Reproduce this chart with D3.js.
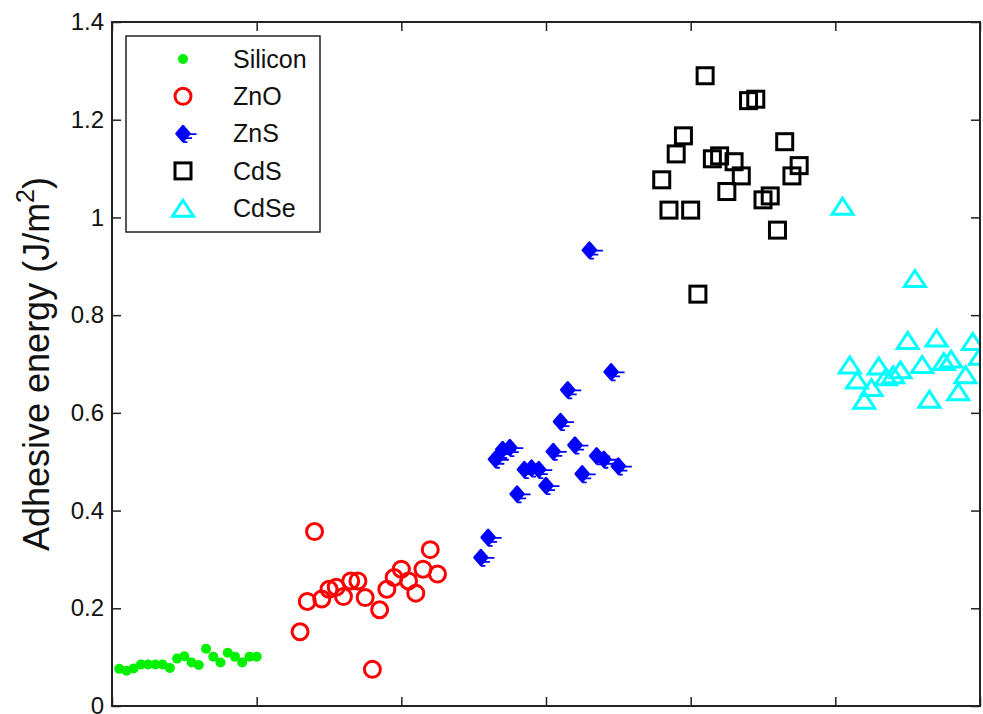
<!DOCTYPE html>
<html>
<head>
<meta charset="utf-8">
<script src="https://cdn.jsdelivr.net/npm/d3@7"></script>
<style>
    body { margin: 0; background: #fff; }
    svg { display: block; font-family: Arial, 'Liberation Sans', sans-serif; }
</style>
</head>
<body>
<div id="chart"></div>
<script>
// sample index (x) and adhesive energy (y) per material
const siliconX = [1, 2, 3, 4, 5, 6, 7, 8, 9, 10, 11, 12, 13, 14, 15, 16, 17, 18, 19, 20];
const siliconY = [0.076, 0.072, 0.077, 0.085, 0.085, 0.085, 0.085, 0.078, 0.097, 0.102,
    0.089, 0.084, 0.117, 0.101, 0.089, 0.109, 0.101, 0.089, 0.101, 0.101];

const znoX = [26, 27, 28, 29, 30, 31, 32, 33, 34, 35, 36, 37, 38, 39, 40, 41, 42, 43, 44, 45];
const znoY = [0.152, 0.214, 0.357, 0.219, 0.239, 0.243, 0.224, 0.256, 0.256, 0.222,
    0.075, 0.197, 0.239, 0.263, 0.280, 0.256, 0.231, 0.280, 0.320, 0.270];

const znsX = [51, 52, 53, 54, 55, 56, 57, 58, 59, 60, 61, 62, 63, 64, 65, 66, 67, 68, 69, 70];
const znsY = [0.304, 0.345, 0.505, 0.525, 0.529, 0.434, 0.484, 0.487, 0.484, 0.451,
    0.521, 0.582, 0.647, 0.534, 0.475, 0.933, 0.512, 0.505, 0.684, 0.491];

const cdsX = [76, 77, 78, 79, 80, 81, 82, 83, 84, 85, 86, 87, 88, 89, 90, 91, 92, 93, 94, 95];
const cdsY = [1.077, 1.015, 1.130, 1.167, 1.015, 0.843, 1.290, 1.120, 1.126, 1.053,
    1.114, 1.085, 1.239, 1.242, 1.036, 1.044, 0.974, 1.155, 1.085, 1.106];

const cdseX = [101, 102, 103, 104, 105, 106, 107, 108, 109, 110, 111, 112, 113, 114, 115, 116, 117, 118, 119, 120];
const cdseY = [1.023, 0.698, 0.667, 0.626, 0.652, 0.696, 0.674, 0.678, 0.688, 0.748,
    0.875, 0.699, 0.628, 0.753, 0.705, 0.710, 0.643, 0.678, 0.746, 0.716];

const seriesNames = ['Silicon', 'ZnO', 'ZnS', 'CdS', 'CdSe'];
const xTicks = [0, 20, 40, 60, 80, 100, 120];
const yTicks = [0, 0.2, 0.4, 0.6, 0.8, 1, 1.2, 1.4];

const width = 983;
const height = 714;
const margin = { top: 22, right: 3, bottom: 8, left: 112 };
const tickLen = 9;

const x = d3.scaleLinear().domain([0, 120]).range([margin.left, width - margin.right]);
const y = d3.scaleLinear().domain([0, 1.4]).range([height - margin.bottom, margin.top]);

// marker drawers, each gets a <g> already moved onto the point
const markers = {
    Silicon: g => g.append('circle').attr('r', 5).attr('fill', '#00f000'),
    ZnO: g => g.append('circle').attr('r', 8).attr('fill', 'none')
        .attr('stroke', '#ff0000').attr('stroke-width', 3),
    ZnS: g => {
        // filled diamond with the little dashes matlab left on it
        g.append('path')
            .attr('d', 'M0,-7.5L6.5,0L0,7.5L-6.5,0Z')
            .attr('fill', '#0000ff')
            .attr('stroke', '#0000ff')
            .attr('stroke-width', 2.5)
            .attr('stroke-linejoin', 'round');
        g.append('path')
            .attr('d', 'M5,0.5H13.5M3,4.5H9M0,8.5H4.5')
            .attr('stroke', '#0000ff').attr('stroke-width', 1.8).attr('fill', 'none');
    },
    CdS: g => g.append('rect').attr('x', -8).attr('y', -8).attr('width', 16).attr('height', 16)
        .attr('fill', 'none').attr('stroke', '#000').attr('stroke-width', 3),
    CdSe: g => g.append('path').attr('d', 'M0,-8L10.5,8L-10.5,8Z')
        .attr('fill', 'none').attr('stroke', '#00ffff').attr('stroke-width', 3)
        .attr('stroke-linejoin', 'miter'),
};

const seriesData = [
    { name: 'Silicon', xs: siliconX, ys: siliconY },
    { name: 'ZnO', xs: znoX, ys: znoY },
    { name: 'ZnS', xs: znsX, ys: znsY },
    { name: 'CdS', xs: cdsX, ys: cdsY },
    { name: 'CdSe', xs: cdseX, ys: cdseY },
];

const svg = d3.select('#chart')
    .append('svg')
    .attr('width', width)
    .attr('height', height);

svg.append('defs').append('clipPath').attr('id', 'plot-clip')
    .append('rect')
    .attr('x', margin.left)
    .attr('y', margin.top)
    .attr('width', width - margin.right - margin.left)
    .attr('height', height - margin.bottom - margin.top);

// points
const plot = svg.append('g').attr('clip-path', 'url(#plot-clip)');
seriesData.forEach(s => {
    plot.append('g')
        .selectAll('g')
        .data(d3.zip(s.xs, s.ys))
        .join('g')
        .attr('transform', d => `translate(${x(d[0])},${y(d[1])})`)
        .each(function () {
            markers[s.name](d3.select(this));
        });
});

// axes, ticks pointing inward like matlab
const styleAxis = g => {
    g.select('.domain').remove();
    g.selectAll('.tick line').attr('stroke', '#222').attr('stroke-width', 1.5);
    g.selectAll('.tick text').attr('fill', '#111').style('font-size', '24px');
};

svg.append('g')
    .attr('transform', `translate(0,${height - margin.bottom})`)
    .call(d3.axisBottom(x).tickValues(xTicks).tickSize(-tickLen).tickFormat(''))
    .call(styleAxis);
svg.append('g')
    .attr('transform', `translate(0,${margin.top})`)
    .call(d3.axisTop(x).tickValues(xTicks).tickSize(-tickLen).tickFormat(''))
    .call(styleAxis);
svg.append('g')
    .attr('transform', `translate(${margin.left},0)`)
    .call(d3.axisLeft(y).tickValues(yTicks).tickSize(-tickLen).tickPadding(8).tickFormat(d => d))
    .call(styleAxis);
svg.append('g')
    .attr('transform', `translate(${width - margin.right},0)`)
    .call(d3.axisRight(y).tickValues(yTicks).tickSize(-tickLen).tickFormat(''))
    .call(styleAxis);

// box
svg.append('rect')
    .attr('x', margin.left)
    .attr('y', margin.top)
    .attr('width', width - margin.right - margin.left)
    .attr('height', height - margin.bottom - margin.top)
    .attr('fill', 'none')
    .attr('stroke', '#222')
    .attr('stroke-width', 2);

// y label
const yLabel = svg.append('text')
    .attr('transform', `translate(49,${(margin.top + height - margin.bottom) / 2}) rotate(-90)`)
    .attr('text-anchor', 'middle')
    .style('font-size', '36px')
    .attr('fill', '#111');
yLabel.append('tspan').text('Adhesive energy (J/m');
yLabel.append('tspan').attr('dy', -15).style('font-size', '25px').text('2');
yLabel.append('tspan').attr('dy', 15).text(')');

// legend
const legend = svg.append('g').attr('transform', 'translate(126,36)');
legend.append('rect')
    .attr('width', 194)
    .attr('height', 196)
    .attr('fill', '#fff')
    .attr('stroke', '#222')
    .attr('stroke-width', 1.5);

const legendRow = legend.selectAll('g.row')
    .data(seriesNames)
    .join('g')
    .attr('class', 'row')
    .attr('transform', (d, i) => `translate(0,${23 + i * 37.3})`);

legendRow.append('g')
    .attr('transform', 'translate(57,0)')
    .each(function (d) {
        markers[d](d3.select(this));
    });

legendRow.append('text')
    .attr('x', 107)
    .attr('dy', '0.35em')
    .style('font-size', '25px')
    .attr('fill', '#111')
    .text(d => d);
</script>
</body>
</html>
